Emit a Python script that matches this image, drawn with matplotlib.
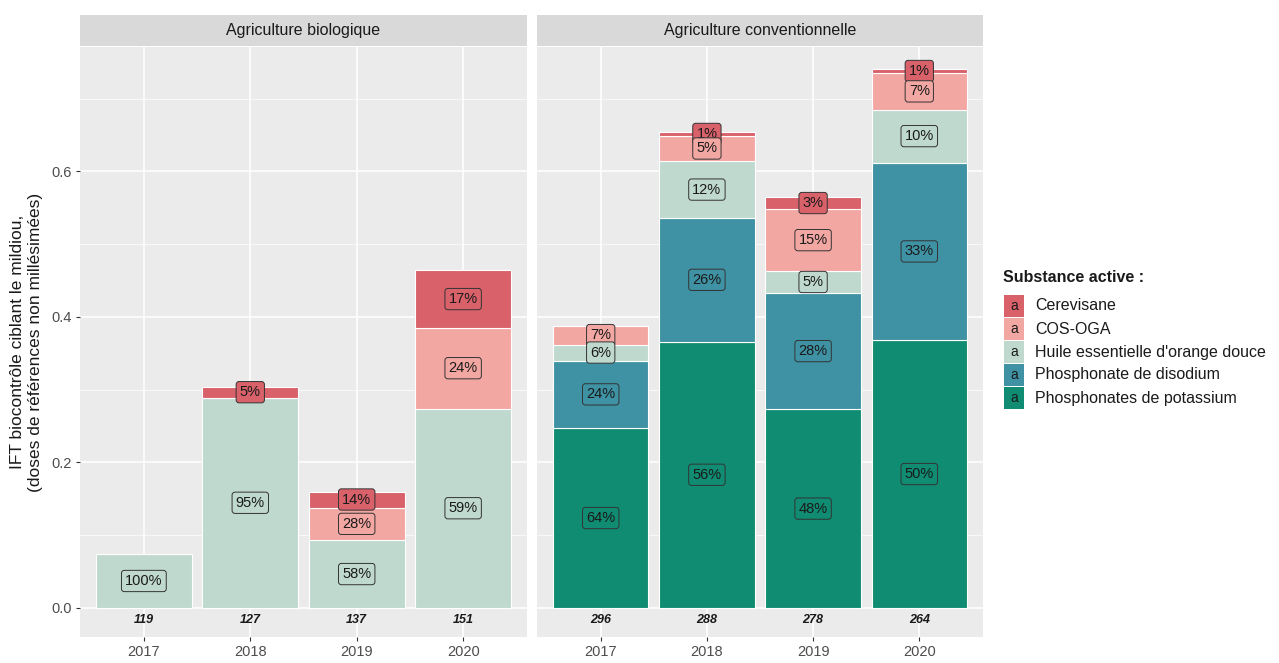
import numpy as np
import matplotlib.pyplot as plt
from matplotlib.patches import Rectangle

years = ["2017", "2018", "2019", "2020"]
substances = ["Cerevisane", "COS-OGA", "Huile essentielle d'orange douce",
              "Phosphonate de disodium", "Phosphonates de potassium"]
colors = ["#D8616A", "#F3A7A3", "#BFD9CE", "#3F92A3", "#0F8C72"]

# IFT per substance (bottom -> top : potassium, disodium, huile, COS-OGA, cerevisane)
bio_potassium = [0.0, 0.0, 0.0, 0.0]
bio_disodium = [0.0, 0.0, 0.0, 0.0]
bio_huile = [0.074, 0.289, 0.093, 0.274]
bio_cos = [0.0, 0.0, 0.045, 0.111]
bio_cerevisane = [0.0, 0.015, 0.022, 0.079]
bio_n = [119, 127, 137, 151]

conv_potassium = [0.247, 0.366, 0.273, 0.368]
conv_disodium = [0.093, 0.170, 0.160, 0.244]
conv_huile = [0.022, 0.078, 0.030, 0.073]
conv_cos = [0.026, 0.035, 0.085, 0.050]
conv_cerevisane = [0.0, 0.005, 0.017, 0.006]
conv_n = [296, 288, 278, 264]

facets = [
    ("Agriculture biologique",
     [bio_potassium, bio_disodium, bio_huile, bio_cos, bio_cerevisane], bio_n),
    ("Agriculture conventionnelle",
     [conv_potassium, conv_disodium, conv_huile, conv_cos, conv_cerevisane], conv_n),
]
stack_colors = colors[::-1]

fig = plt.figure(figsize=(12.79, 6.63), dpi=100)
plt.rcParams['font.family'] = ['Liberation Sans', 'DejaVu Sans']

panel_x = [(80, 527), (537, 983)]
W, H = 1279, 663
top_px, bot_px = 47, 637
x = np.arange(len(years))

for i, (title, stack, counts) in enumerate(facets):
    l, r = panel_x[i]
    ax = fig.add_axes([l / W, 1 - bot_px / H, (r - l) / W, (bot_px - top_px) / H])
    ax.set_facecolor("#EBEBEB")
    ax.set_xlim(-0.6, 3.6)
    ax.set_ylim(-0.04, 0.771)
    for y in [0.1, 0.3, 0.5, 0.7]:
        ax.axhline(y, color="white", lw=0.5, zorder=0)
    for y in [0.0, 0.2, 0.4, 0.6]:
        ax.axhline(y, color="white", lw=1.1, zorder=0)
    for xi in x:
        ax.axvline(xi, color="white", lw=1.1, zorder=0)

    totals = np.sum(np.array(stack), axis=0)
    bottom = np.zeros(len(years))
    for level, (vals, col) in enumerate(zip(stack, stack_colors)):
        vals = np.array(vals)
        ax.bar(x, vals, width=0.9, bottom=bottom, color=col,
               edgecolor="white", linewidth=0.8, zorder=2)
        for xi, v, b, t in zip(x, vals, bottom, totals):
            if v <= 0:
                continue
            pct = int(round(100 * v / t))
            # lower labels sit above upper ones, as in the original
            ax.text(xi, b + v / 2, f"{pct}%", ha="center", va="center",
                    fontsize=10.5, color="#1a1a1a", zorder=10 - level,
                    bbox=dict(boxstyle="round,pad=0.25,rounding_size=0.2",
                              fc=col, ec="#333333", lw=0.7))
        bottom = bottom + vals

    for xi, n in zip(x, counts):
        ax.text(xi, -0.016, str(n), ha="center", va="center", fontsize=9,
                fontweight="bold", fontstyle="italic", color="#1a1a1a")

    ax.set_xticks(x)
    ax.set_xticklabels(years, fontsize=10.5, color="#4D4D4D")
    ax.tick_params(axis="x", length=3, color="#333333", pad=3)
    for s in ax.spines.values():
        s.set_visible(False)
    ax.set_yticks([0.0, 0.2, 0.4, 0.6])
    if i == 0:
        ax.set_yticklabels(["0.0", "0.2", "0.4", "0.6"], fontsize=10.5, color="#4D4D4D")
        ax.tick_params(axis="y", length=3, color="#333333", pad=3)
        ax.set_ylabel("IFT biocontrôle ciblant le mildiou,\n(doses de références non millésimées)",
                      fontsize=12.5, color="#1a1a1a", labelpad=6)
    else:
        ax.set_yticklabels([])
        ax.tick_params(axis="y", length=0)

    # facet strip
    sax = fig.add_axes([l / W, 1 - 46 / H, (r - l) / W, 31 / H])
    sax.set_facecolor("#D9D9D9")
    sax.set_xticks([])
    sax.set_yticks([])
    for s in sax.spines.values():
        s.set_visible(False)
    sax.text(0.5, 0.5, title, ha="center", va="center", fontsize=11.5,
             color="#1a1a1a", transform=sax.transAxes)

# legend
fig.text(1003 / W, 1 - 277 / H, "Substance active :", fontsize=11.5,
         fontweight="bold", ha="left", va="center", color="#1a1a1a")
for k, (name, col) in enumerate(zip(substances, colors)):
    yc = 1 - (306 + k * 23) / H
    fig.patches.append(Rectangle((1004 / W, yc - 11 / H), 20 / W, 22 / H,
                                 transform=fig.transFigure, fc=col, ec="none"))
    fig.text(1014 / W, yc, "a", fontsize=10, ha="center", va="center", color="#1a1a1a")
    fig.text(1035 / W, yc, name, fontsize=11.5, ha="left", va="center", color="#1a1a1a")

fig.savefig("out.png", dpi=100)
